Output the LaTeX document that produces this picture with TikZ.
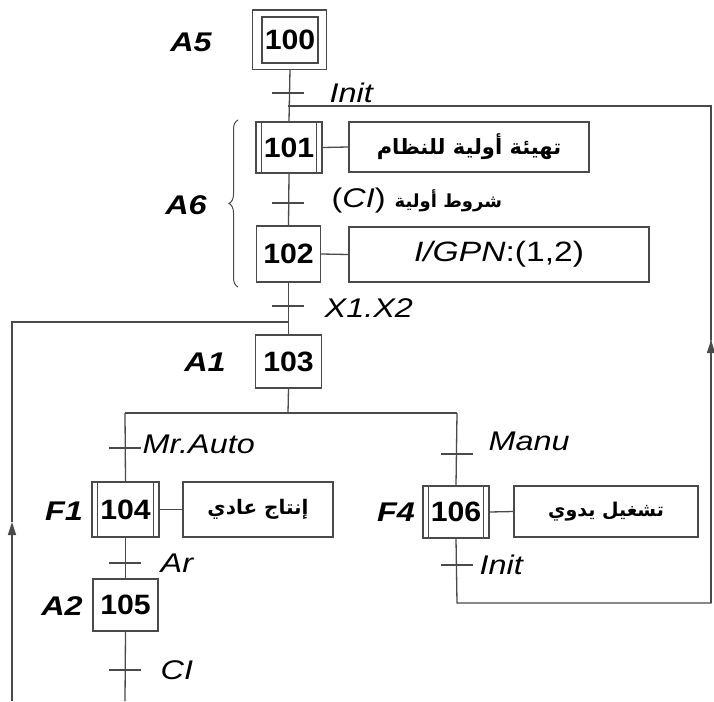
\documentclass[tikz,border=0pt]{standalone}
\usepackage{fontspec}
\setmainfont{Liberation Sans}[FakeStretch=1.2]
\newfontfamily\stepfont{Liberation Sans}[FakeStretch=1.08]
\newfontfamily\arabicfont[Script=Arabic]{DejaVu Sans}
\TeXXeTstate=1
\usetikzlibrary{decorations.pathreplacing,arrows.meta}
\definecolor{linec}{HTML}{4A4A4A}
\begin{document}
\begin{tikzpicture}[x=1pt,y=-1pt,line width=1.3pt,
  every node/.style={inner sep=0pt},
  stepbox/.style={draw=linec,minimum width=66pt,minimum height=53pt,font=\stepfont\fontsize{28}{28}\selectfont\bfseries},
  actbox/.style={draw=linec,minimum height=52pt,font=\fontsize{20}{20}\selectfont},
  wire/.style={draw=linec,line width=1.3pt},
  tickmark/.style={draw=linec,line width=1.3pt},
  trlabel/.style={anchor=west,font=\fontsize{27}{27}\selectfont\itshape},
  steplabel/.style={font=\fontsize{27}{27}\selectfont\bfseries\itshape},
  uparrow/.style={-{Triangle[length=13pt,width=8pt]}}]
\useasboundingbox (0,0) rectangle (714,701);
\fill[white] (0,0) rectangle (714,701);

% steps
\node[stepbox,minimum width=56pt,minimum height=46pt] (s100) at (290,40) {100};
\node[stepbox,minimum height=51pt] (s101) at (289,147.5) {101};
\node[stepbox,minimum width=64pt,minimum height=56pt] (s102) at (288.5,254) {102};
\node[stepbox] (s103) at (288.5,361.5) {103};
\node[stepbox,minimum width=67pt,minimum height=55pt] (s104) at (125.5,509.5) {104};
\node[stepbox,minimum width=65pt,minimum height=52pt] (s105) at (125.5,605) {105};
\node[stepbox,minimum height=52pt] (s106) at (456,512) {106};

% initial step outer frame
\draw[linec] ([shift={(-9pt,7pt)}]s100.north west) rectangle ([shift={(8pt,-6pt)}]s100.south east);
\draw[linec,line width=2.2pt] ([shift={(-8pt,6pt)}]s100.north west) -- ([shift={(7pt,6pt)}]s100.north east);
% macro-step bars
\foreach \s in {s101,s104,s106}{
  \draw[linec] ([xshift=6pt]\s.north west) -- ([xshift=6pt]\s.south west);
  \draw[linec] ([xshift=-6pt]\s.north east) -- ([xshift=-6pt]\s.south east);
}

% actions
\node[actbox,minimum width=240pt,minimum height=50pt] (a101) at (469,147) {\arabicfont\fontsize{21}{21}\selectfont\bfseries\beginR تهيئة أولية للنظام\endR};
\node[actbox,minimum width=300pt,minimum height=55pt,font=\fontsize{28}{28}\selectfont] (a102) at (499,254.5) {\textit{I/GPN}:(1,2)};
\node[actbox,minimum width=150pt,minimum height=55pt] (a104) at (258,509.5) {\arabicfont\fontsize{20}{20}\selectfont\bfseries\beginR إنتاج عادي\endR};
\node[actbox,minimum width=184pt,minimum height=51pt] (a106) at (606,511.5) {\arabicfont\fontsize{19}{19}\selectfont\bfseries\beginR تشغيل يدوي\endR};
\draw[wire] (s101.east) -- (a101.west);
\draw[wire] (s102.east) -- (a102.west);
\draw[wire] (s104.east) -- (a104.west);
\draw[wire] (s106.east) -- (a106.west);

% step labels
\node[steplabel] (lA5) at (191,42) {A5};
\node[steplabel] (lA6) at (186,205) {A6};
\node[steplabel] (lA1) at (205,362) {A1};
\node[steplabel] (lF1) at (64,511) {F1};
\node[steplabel] (lF4) at (396,512) {F4};
\node[steplabel] (lA2) at (62,606) {A2};

% brace
\draw[linec,line width=1pt,decorate,decoration={brace,amplitude=9pt}] (238,287) -- (238,120);

% coordinates
\coordinate (t100) at (288,93);
\coordinate (jr) at (288,106);
\coordinate (t101) at (288,203);
\coordinate (t102) at (288,306);
\coordinate (jl) at (288,322);
\coordinate (div) at (288,413);
\coordinate (divl) at (125,413);
\coordinate (divr) at (457,413);
\coordinate (tauto) at (125,448);
\coordinate (tmanu) at (457,454);
\coordinate (t104) at (125,563);
\coordinate (t105) at (125,670);
\coordinate (bot) at (125,701);
\coordinate (t106) at (457,565);
\coordinate (rb) at (457,603);
\coordinate (rc) at (711,603);
\coordinate (ra) at (711,340);
\coordinate (rt) at (711,106);
\coordinate (lb) at (12,701);
\coordinate (la) at (12,522);
\coordinate (lt) at (12,322);

% main links
\draw[wire] (s100.south |- 0,69) -- (s101.north);
\draw[wire] (s101.south) -- (s102.north);
\draw[wire] (s102.south) -- (s103.north);
\draw[wire] (s103.south) -- (div);
\draw[wire] (divl) -- (divr);
\draw[wire] (divl) -- (s104.north);
\draw[wire] (divr) -- (s106.north);
\draw[wire] (s104.south) -- (s105.north);
\draw[wire] (s105.south) -- (bot);
\draw[wire] (s106.south) -- (rb) -- (rc) -- (ra);
\draw[wire,uparrow] (rc) -- (ra);
\draw[wire] (ra) -- (rt) -- (jr);
\draw[wire,uparrow] (lb) -- (la);
\draw[wire] (la) -- (lt) -- (jl);

% transitions
\foreach \t in {t100,t101,t102,tauto,tmanu,t104,t105,t106}{
  \draw[tickmark] ([xshift=-16pt]\t) -- ([xshift=16pt]\t);
}
\node[trlabel] (L100) at (329,93) {Init};
\node[trlabel,font=\fontsize{27}{27}\selectfont] (L101) at (331,201) {(\textit{CI}) {\arabicfont\fontsize{18}{18}\selectfont\bfseries\beginR شروط أولية\endR}};
\node[trlabel] (L102) at (324,308) {X1.X2};
\node[trlabel] (Lauto) at (142,444) {Mr.Auto};
\node[trlabel] (Lmanu) at (488,441) {Manu};
\node[trlabel] (L104) at (160,563) {Ar};
\node[trlabel] (L105) at (160,670) {CI};
\node[trlabel] (L106) at (479,565) {Init};
\end{tikzpicture}
\end{document}
